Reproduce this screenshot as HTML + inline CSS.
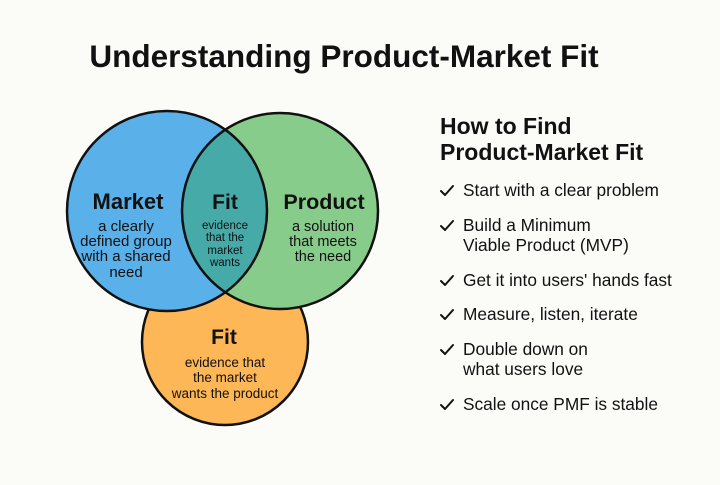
<!DOCTYPE html>
<html><head><meta charset="utf-8"><style>
html,body{margin:0;padding:0;background:#fbfbf8;}
svg text{font-family:"Liberation Sans",sans-serif;fill:#111;}
</style></head><body>
<svg width="720" height="480" viewBox="0 0 720 480" xmlns="http://www.w3.org/2000/svg">
<rect width="720" height="480" fill="#fbfbf8"/>
<text x="344" y="67" text-anchor="middle" font-size="31.5" font-weight="bold">Understanding Product-Market Fit</text>
<defs><clipPath id="cm"><circle cx="167" cy="211" r="100"/></clipPath></defs>
<circle cx="225" cy="342" r="83" fill="#fdb757" stroke="#111" stroke-width="2.5"/>
<circle cx="167" cy="211" r="100" fill="#5ab0e8"/>
<circle cx="280" cy="211" r="98" fill="#88cc8c"/>
<circle cx="280" cy="211" r="98" fill="#45aaa8" clip-path="url(#cm)"/>
<circle cx="167" cy="211" r="100" fill="none" stroke="#111" stroke-width="2.5"/>
<circle cx="280" cy="211" r="98" fill="none" stroke="#111" stroke-width="2.5"/>
<g text-anchor="middle">
<text x="128" y="209" font-size="22" font-weight="bold">Market</text>
<g font-size="15"><text x="126" y="231">a clearly</text><text x="126" y="246">defined group</text><text x="126" y="261">with a shared</text><text x="126" y="277">need</text></g>
<text x="225" y="209" font-size="21" font-weight="bold">Fit</text>
<g font-size="11.5"><text x="225" y="229">evidence</text><text x="225" y="241">that the</text><text x="225" y="254">market</text><text x="225" y="266">wants</text></g>
<text x="324" y="209" font-size="21.5" font-weight="bold">Product</text>
<g font-size="14.5"><text x="323" y="231">a solution</text><text x="323" y="246">that meets</text><text x="323" y="261">the need</text></g>
<text x="224" y="344" font-size="21" font-weight="bold">Fit</text>
<g font-size="13.5"><text x="225" y="367">evidence that</text><text x="225" y="382">the market</text><text x="225" y="398">wants the product</text></g>
</g>
<g font-size="23" font-weight="bold"><text x="440" y="134">How to Find</text><text x="440" y="160">Product-Market Fit</text></g>
<g font-size="17.3">
<text x="463" y="196">Start with a clear problem</text>
<text x="463" y="231">Build a Minimum</text><text x="463" y="251">Viable Product (MVP)</text>
<text x="463" y="286">Get it into users' hands fast</text>
<text x="463" y="320">Measure, listen, iterate</text>
<text x="463" y="355">Double down on</text><text x="463" y="375">what users love</text>
<text x="463" y="410">Scale once PMF is stable</text>
</g>
<g fill="none" stroke="#111" stroke-width="2" stroke-linecap="round" stroke-linejoin="round">
<path d="M441 191l4 4l8 -9"/><path d="M441 226l4 4l8 -9"/><path d="M441 281l4 4l8 -9"/>
<path d="M441 315l4 4l8 -9"/><path d="M441 350l4 4l8 -9"/><path d="M441 405l4 4l8 -9"/>
</g>
</svg>
</body></html>
